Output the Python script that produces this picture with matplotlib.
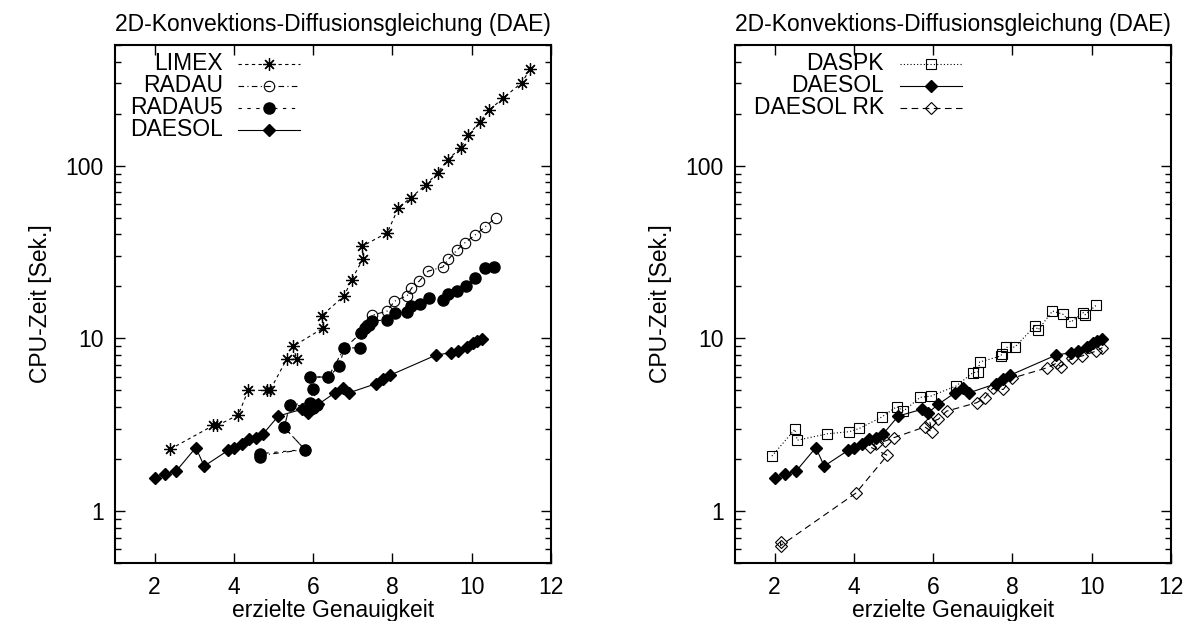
import matplotlib
matplotlib.use("Agg")
import matplotlib.pyplot as plt
from matplotlib.lines import Line2D
from matplotlib.ticker import FixedLocator, FixedFormatter, LogLocator, NullFormatter

plt.rcParams['font.family'] = ['Liberation Sans', 'DejaVu Sans']

# --- Daten ---
limex_x = [2.39, 3.48, 3.58, 4.11, 4.36, 4.83, 4.91, 5.33, 5.58, 5.5, 6.26, 6.21, 6.78, 6.97,
           7.26, 7.24, 7.87, 8.15, 8.46, 8.84, 9.14, 9.39, 9.72, 9.91, 10.21, 10.44, 10.8, 11.26, 11.47]
limex_y = [2.28, 3.13, 3.13, 3.6, 5.0, 5.0, 5.0, 7.56, 7.56, 9.0, 11.5, 13.5, 17.6, 21.8,
           29.0, 34.2, 40.9, 57.0, 65.2, 77.3, 91.0, 108.0, 127.0, 150.0, 180.0, 210.0, 247.0, 302.0, 361.0]

radau_x = [4.66, 5.79, 5.27, 5.41, 6.0, 5.92, 6.38, 6.78, 7.2, 7.35,
           7.48, 7.87, 8.05, 8.37, 8.48, 8.68, 8.9, 9.27, 9.41, 9.62, 9.83, 10.08, 10.33, 10.6]
radau_y = [2.1, 2.27, 3.05, 4.12, 4.0, 5.97, 5.97, 8.75, 10.7, 12.0,
           13.6, 14.4, 16.4, 17.7, 19.5, 21.5, 24.5, 25.9, 28.7, 32.3, 35.8, 39.6, 44.1, 49.9]

radau5_x = [4.66, 4.66, 5.79, 5.27, 5.41, 5.92, 6.0, 6.1, 6.0, 5.92, 6.38, 6.66, 6.78, 7.18, 7.2, 7.3,
            7.4, 7.48, 7.87, 8.06, 8.37, 8.46, 8.69, 8.92, 9.28, 9.41, 9.63, 9.85, 10.08, 10.33, 10.57]
radau5_y = [2.05, 2.15, 2.27, 3.05, 4.12, 4.24, 3.97, 4.1, 5.08, 5.97, 5.97, 6.9, 8.75, 8.85, 10.7, 11.5,
            12.0, 12.6, 12.8, 14.0, 14.2, 15.4, 15.8, 17.2, 16.6, 18.0, 18.8, 20.1, 22.4, 25.6, 25.8]

daesol_x = [2.01, 2.26, 2.54, 3.04, 3.25, 3.86, 4.0, 4.2, 4.38, 4.56, 4.74, 5.12, 5.71, 5.88, 6.13,
            6.55, 6.76, 6.91, 7.58, 7.77, 7.95, 9.1, 9.47, 9.66, 9.87, 10.02, 10.14, 10.27]
daesol_y = [1.55, 1.64, 1.7, 2.33, 1.82, 2.25, 2.33, 2.45, 2.6, 2.64, 2.8, 3.55, 3.88, 3.72, 4.15,
            4.84, 5.18, 4.84, 5.46, 5.8, 6.13, 8.0, 8.26, 8.5, 8.95, 9.35, 9.65, 9.95]

daspk_x = [1.93, 2.51, 2.57, 3.33, 3.88, 4.14, 4.7, 5.08, 5.25, 5.67, 5.94, 6.58, 7.0, 7.14, 7.17,
           7.7, 7.73, 7.84, 8.06, 8.57, 8.65, 9.01, 9.27, 9.47, 9.79, 9.83, 10.12]
daspk_y = [2.08, 2.97, 2.57, 2.8, 2.88, 3.01, 3.5, 4.02, 3.79, 4.55, 4.63, 5.3, 6.32, 6.41, 7.29,
           7.9, 8.07, 8.87, 8.9, 11.8, 11.2, 14.4, 13.8, 12.4, 14.1, 13.7, 15.6]

rk_x = [2.15, 2.15, 4.05, 4.84, 4.41, 4.57, 4.78, 5.01, 5.79, 5.96, 5.92, 6.13, 6.34, 7.1, 7.3,
        7.5, 7.77, 7.98, 8.88, 9.12, 9.22, 9.49, 9.75, 10.11, 10.27]
rk_y = [0.66, 0.63, 1.27, 2.1, 2.35, 2.49, 2.54, 2.66, 3.07, 2.88, 3.27, 3.4, 3.79, 4.24, 4.53,
        5.13, 5.06, 5.87, 6.76, 7.2, 6.85, 7.66, 7.9, 8.44, 8.84]

titel = "2D-Konvektions-Diffusionsgleichung (DAE)"
fs = 16.5

fig = plt.figure(figsize=(11.84, 6.21), dpi=100)
ax1 = fig.add_axes([115/1184, 58/621, 436/1184, 518/621])
ax2 = fig.add_axes([735/1184, 58/621, 436/1184, 518/621])

lw = 0.8
s_limex = dict(color='k', lw=lw, ls=(0, (3, 3)), marker=(8, 2, 0), ms=9, mew=0.9)
s_radau = dict(color='k', lw=lw, ls=(0, (5, 3, 1, 3)), marker='o', ms=7.5, mfc='none', mew=0.8)
s_radau5 = dict(color='k', lw=lw, ls=(0, (3, 5)), marker='o', ms=8, mfc='k')
s_daesol = dict(color='k', lw=lw, ls='-', marker='D', ms=6, mfc='k')
s_daspk = dict(color='k', lw=lw, ls=(0, (1, 2)), marker='s', ms=7, mfc='none', mew=0.8)
s_rk = dict(color='k', lw=lw, ls=(0, (6, 4)), marker='D', ms=6, mfc='none', mew=0.8)

ax1.plot(limex_x, limex_y, **s_limex)
ax1.plot(radau_x, radau_y, **s_radau)
ax1.plot(radau5_x, radau5_y, **s_radau5)
ax1.plot(daesol_x, daesol_y, **s_daesol)

ax2.plot(daspk_x, daspk_y, **s_daspk)
ax2.plot(daesol_x, daesol_y, **s_daesol)
ax2.plot(rk_x, rk_y, **s_rk)


def legende(ax, eintraege, xt, x0, x1):
    rows = [64, 86, 108, 130]
    for (lab, st), r in zip(eintraege, rows):
        yf = 1 - (r - 45) / 518
        ax.text(xt, yf, lab, transform=ax.transAxes, ha='right', va='center', fontsize=fs)
        st2 = dict(st)
        ax.add_line(Line2D([x0, x1], [yf, yf], transform=ax.transAxes, color='k', lw=lw,
                           ls=st2.pop('ls')))
        st2.pop('lw'); st2.pop('color')
        ax.add_line(Line2D([(x0 + x1) / 2], [yf], transform=ax.transAxes, color='k', ls='none', **st2))


legende(ax1, [("LIMEX", s_limex), ("RADAU", s_radau), ("RADAU5", s_radau5), ("DAESOL", s_daesol)],
        0.247, 0.282, 0.424)
legende(ax2, [("DASPK", s_daspk), ("DAESOL", s_daesol), ("DAESOL RK", s_rk)],
        0.342, 0.378, 0.520)

for ax in (ax1, ax2):
    ax.set_yscale('log')
    ax.set_xlim(1, 12)
    ax.set_ylim(0.5, 500)
    ax.set_xticks([2, 4, 6, 8, 10, 12])
    ax.yaxis.set_major_locator(FixedLocator([1, 10, 100]))
    ax.yaxis.set_major_formatter(FixedFormatter(['1', '10', '100']))
    ax.yaxis.set_minor_locator(LogLocator(base=10, subs=[2, 3, 4, 5, 6, 7, 8, 9]))
    ax.yaxis.set_minor_formatter(NullFormatter())
    ax.tick_params(which='both', direction='in', top=True, right=True, labelsize=fs)
    ax.tick_params(which='major', length=7, width=1)
    ax.tick_params(which='minor', length=4.5, width=1)
    ax.tick_params(axis='x', pad=9)
    ax.tick_params(axis='y', pad=8)
    for sp in ax.spines.values():
        sp.set_linewidth(1.5)
    ax.set_title(titel, fontsize=fs, pad=10)
    ax.set_xlabel("erzielte Genauigkeit", fontsize=fs, labelpad=0)
    ax.set_ylabel("CPU-Zeit [Sek.]", fontsize=fs, labelpad=10)

fig.savefig("out.png", dpi=100)
